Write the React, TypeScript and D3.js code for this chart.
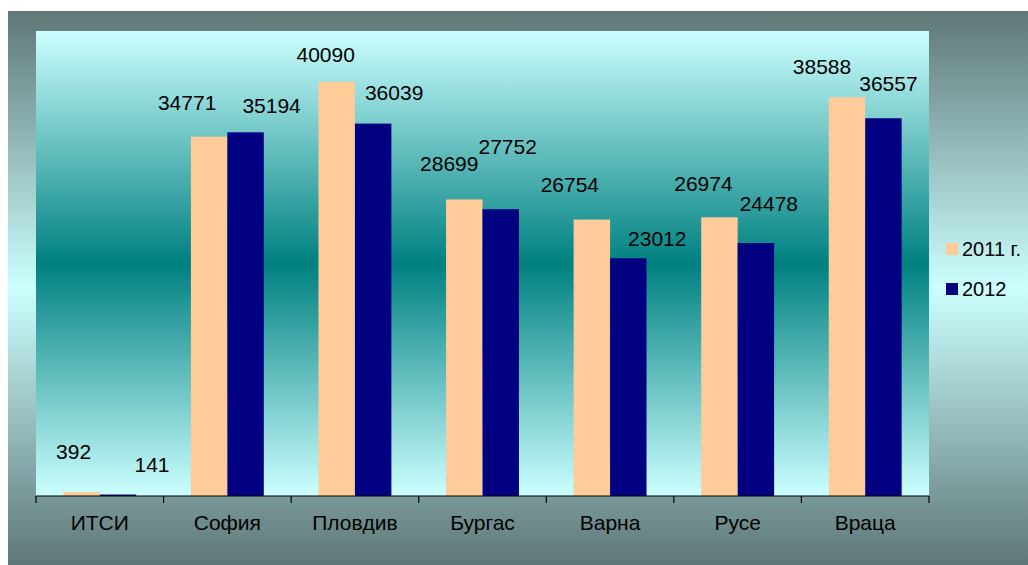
import React from "react";
import * as d3 from "d3";

// Regional values for the two years
const categories = ["ИТСИ", "София", "Пловдив", "Бургас", "Варна", "Русе", "Враца"];
const values2011 = [392, 34771, 40090, 28699, 26754, 26974, 38588];
const values2012 = [141, 35194, 36039, 27752, 23012, 24478, 36557];
const seriesNames = ["2011 г.", "2012"];
const seriesColors = ["#FFCC99", "#000080"];
const yDomainMax = 45000;

// Manual label placement: [dx from bar centre, dy of text centre above bar top]
const labelNudge2011 = [[-8, -40], [-22, -34], [-11, -27], [-15, -36], [-22, -35], [-16, -34], [-25, -31]];
const labelNudge2012 = [[34, -30], [26, -27], [21, -31], [7, -63], [29, -20], [13, -40], [5, -35]];

const W = 1028;
const H = 565;
const frame = { x: 8, y: 11, w: 1020, h: 554 };
const plot = { left: 36, right: 929, top: 31, bottom: 496 };
const FONT = "'Liberation Sans', Arial, sans-serif";

export default function App() {
  const series = [values2011, values2012];
  const nudges = [labelNudge2011, labelNudge2012];

  const x = d3
    .scaleBand<string>()
    .domain(categories)
    .range([plot.left, plot.right])
    .paddingInner(1.5 / 3.5)
    .paddingOuter(0.75 / 3.5);

  const xSub = d3
    .scaleBand<number>()
    .domain([0, 1])
    .range([0, x.bandwidth()])
    .padding(0);

  const y = d3.scaleLinear().domain([0, yDomainMax]).range([plot.bottom, plot.top]);

  const step = x.step();
  const boundaries = d3.range(categories.length + 1).map((i) => plot.left + i * step);

  const labelSize = 21;
  const axisSize = 21;

  return (
    <svg
      width={W}
      height={H}
      style={{ position: "absolute", left: 0, top: 0, display: "block" }}
      fontFamily={FONT}
    >
      <defs>
        <linearGradient id="frameGrad" x1="0" y1="0" x2="0" y2="1">
          <stop offset="0" stopColor="#5E7777" />
          <stop offset="0.5" stopColor="#CCFFFF" />
          <stop offset="1" stopColor="#5E7777" />
        </linearGradient>
        <linearGradient id="plotGrad" x1="0" y1="0" x2="0" y2="1">
          <stop offset="0" stopColor="#CCFFFF" />
          <stop offset="0.5" stopColor="#008080" />
          <stop offset="1" stopColor="#CCFFFF" />
        </linearGradient>
      </defs>

      <rect x={0} y={0} width={W} height={H} fill="#FFFFFF" />
      <rect x={frame.x} y={frame.y} width={frame.w} height={frame.h} fill="url(#frameGrad)" />
      <rect
        x={plot.left}
        y={plot.top}
        width={plot.right - plot.left}
        height={plot.bottom - plot.top}
        fill="url(#plotGrad)"
      />

      {/* bars */}
      {categories.map((c, i) => (
        <g key={c}>
          {series.map((vals, s) => (
            <rect
              key={s}
              x={(x(c) as number) + (xSub(s) as number)}
              y={y(vals[i])}
              width={xSub.bandwidth()}
              height={plot.bottom - y(vals[i])}
              fill={seriesColors[s]}
            />
          ))}
        </g>
      ))}

      {/* value labels */}
      {categories.map((c, i) => (
        <g key={"l" + c}>
          {series.map((vals, s) => {
            const cx = (x(c) as number) + (xSub(s) as number) + xSub.bandwidth() / 2 + nudges[s][i][0];
            const cy = y(vals[i]) + nudges[s][i][1];
            return (
              <text
                key={s}
                x={cx}
                y={cy + labelSize * 0.358}
                textAnchor="middle"
                fontSize={labelSize}
                fill="#000"
              >
                {vals[i]}
              </text>
            );
          })}
        </g>
      ))}

      {/* category axis */}
      <line x1={plot.left} x2={plot.right} y1={plot.bottom} y2={plot.bottom} stroke="#000" strokeWidth={1.2} />
      {boundaries.map((bx, i) => (
        <line key={i} x1={bx} x2={bx} y1={plot.bottom} y2={plot.bottom + 7} stroke="#000" strokeWidth={1.2} />
      ))}
      {categories.map((c) => (
        <text
          key={"c" + c}
          x={(x(c) as number) + x.bandwidth() / 2}
          y={522.5 + axisSize * 0.358}
          textAnchor="middle"
          fontSize={axisSize}
          fill="#000"
        >
          {c}
        </text>
      ))}

      {/* legend */}
      {seriesNames.map((name, s) => (
        <g key={name} transform={`translate(946, ${243 + s * 40})`}>
          <rect x={0} y={0} width={12} height={12} fill={seriesColors[s]} />
          <text x={16} y={6 + 20 * 0.358} fontSize={20} fill="#000">
            {name}
          </text>
        </g>
      ))}
    </svg>
  );
}
